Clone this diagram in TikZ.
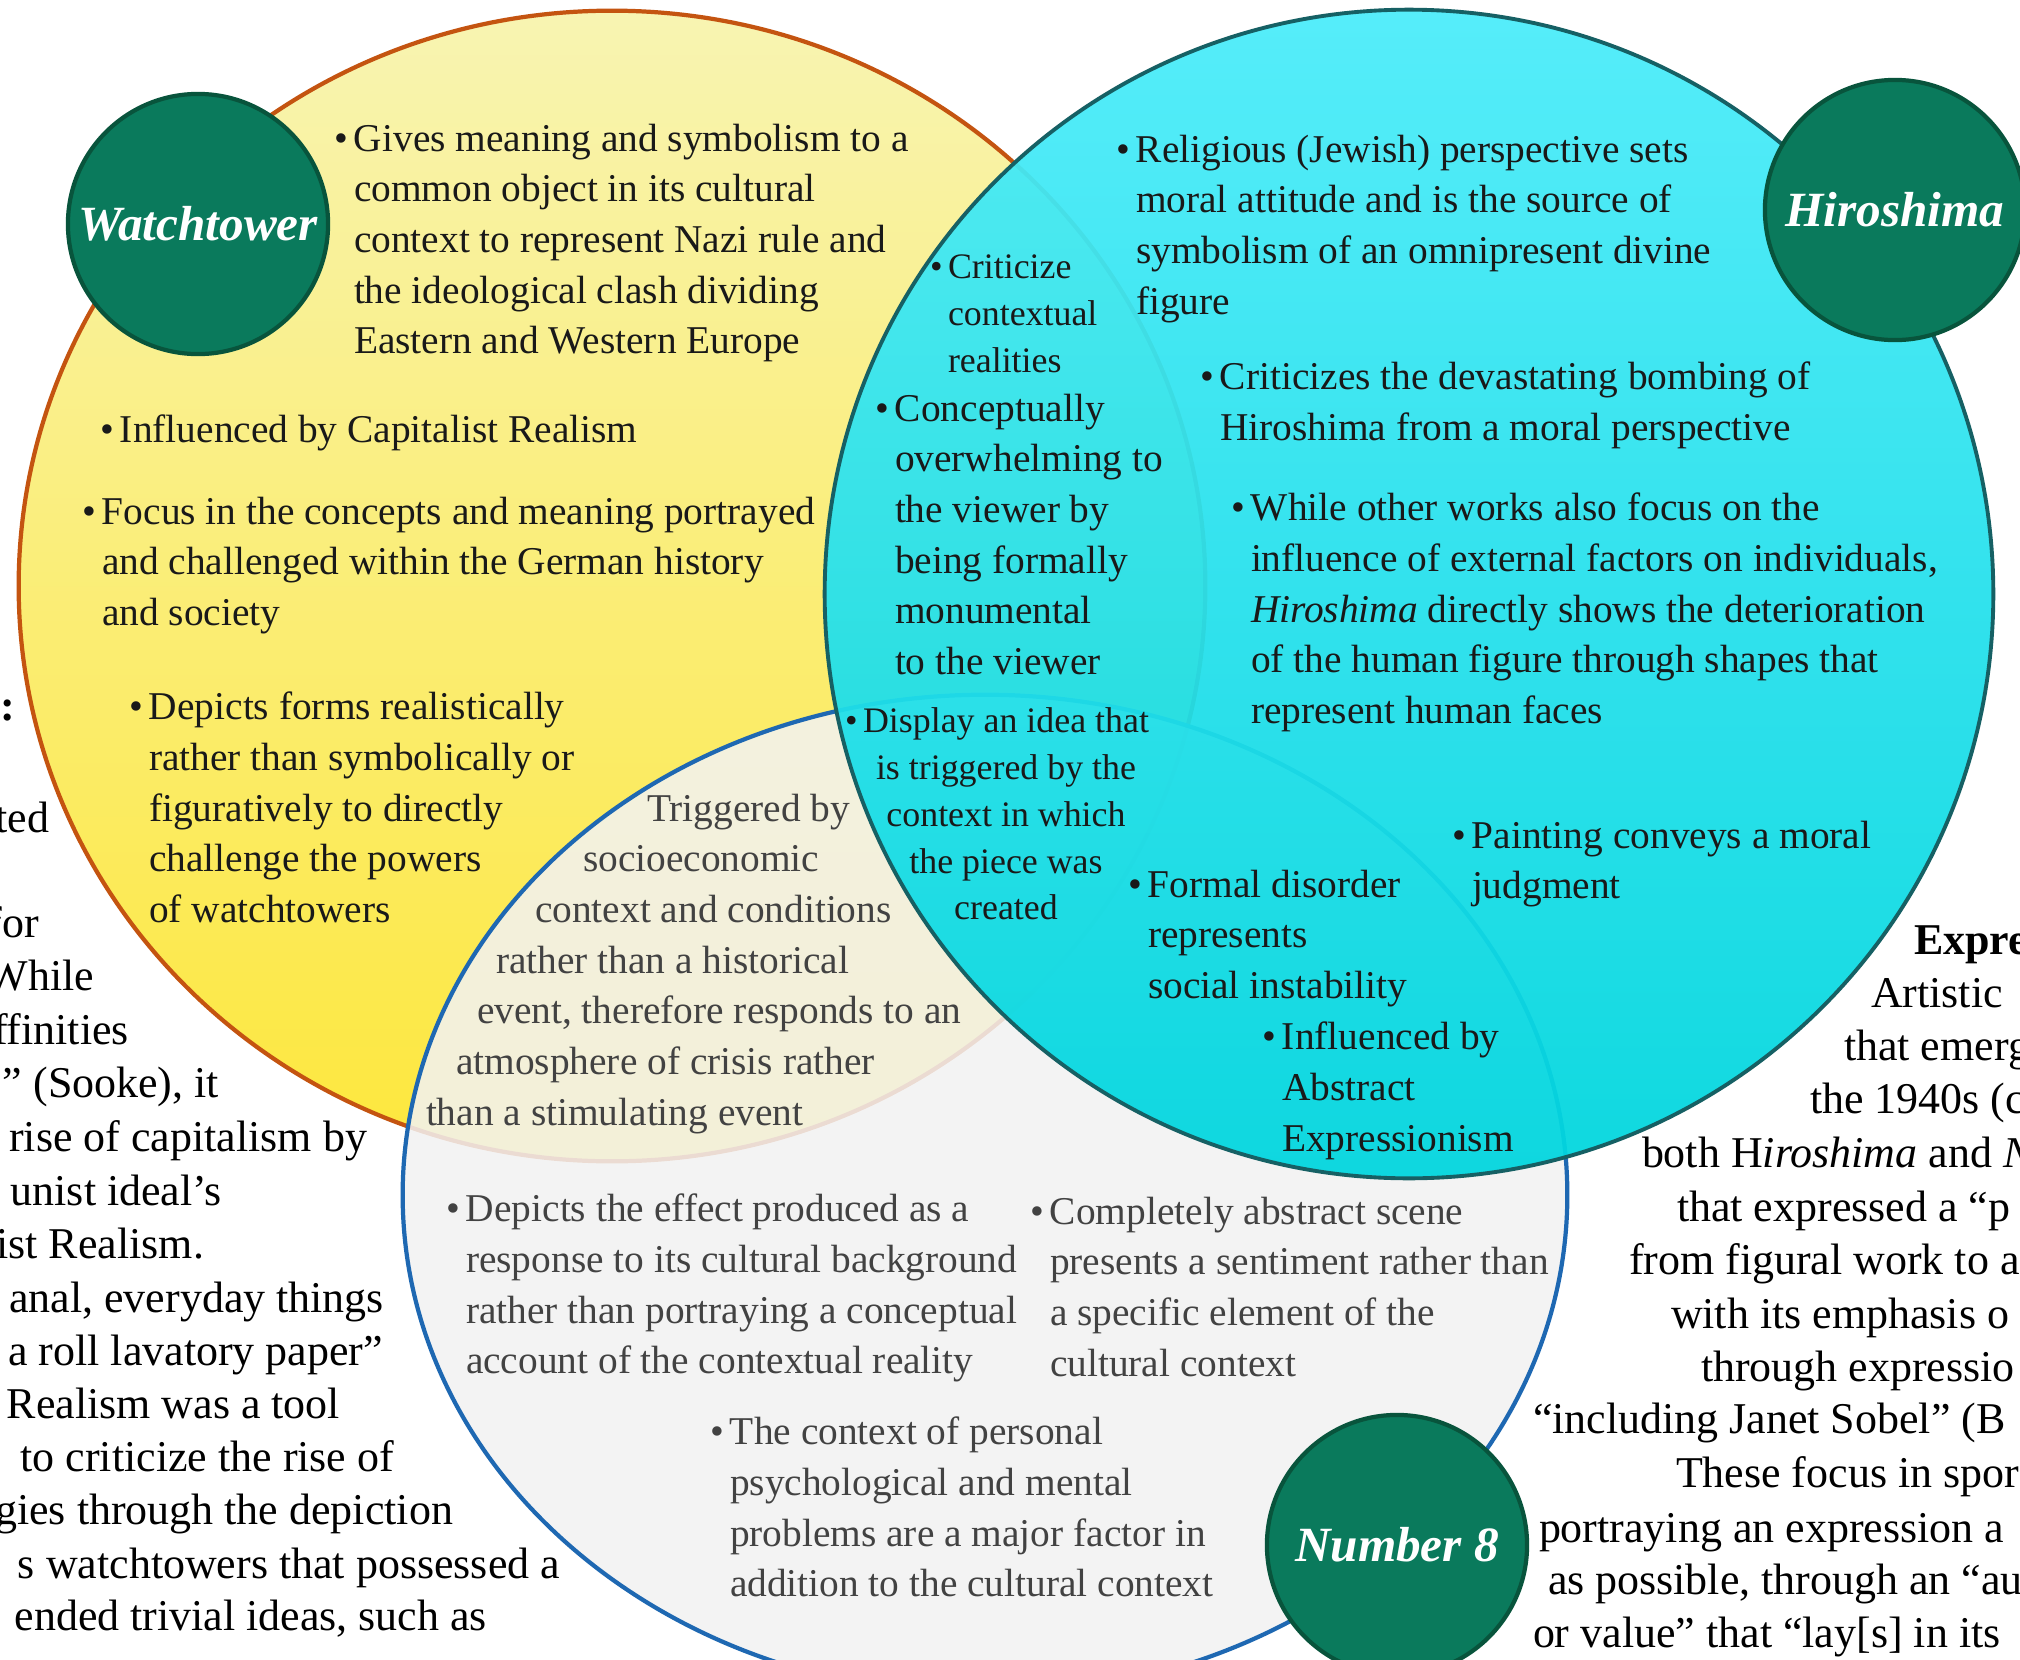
\documentclass[tikz,border=0pt]{standalone}
\usepackage{fontspec}
\setmainfont{Liberation Serif}
\definecolor{ylwtop}{RGB}{248,244,178}
\definecolor{ylwbot}{RGB}{253,231,60}
\definecolor{ylwedge}{RGB}{196,84,16}
\definecolor{cyntop}{RGB}{76,236,250}
\definecolor{cynbot}{RGB}{0,214,222}
\definecolor{cynedge}{RGB}{22,96,100}
\definecolor{wfill}{RGB}{242,242,242}
\definecolor{wedge}{RGB}{30,104,178}
\definecolor{badgegreen}{RGB}{10,122,92}
\definecolor{badgeedge}{RGB}{8,84,60}
\newcommand{\bu}{\llap{\textbullet\hspace{0.15em}}}
\begin{document}
\begin{tikzpicture}[x=0.01cm,y=-0.01cm,
  every node/.style={inner sep=0pt, outer sep=0pt},
  doc/.style={font=\fontsize{12.5}{15}\selectfont, text=black},
  pt/.style={font=\fontsize{11.2}{14.4}\selectfont, align=left, anchor=north west, text=black!90},
  ptsmall/.style={font=\fontsize{10.2}{13.3}\selectfont, align=left, anchor=north west, text=black!90},
  pgray/.style={pt, text=black!74},
  badge/.style={circle, fill=badgegreen, draw=badgeedge, line width=1.2pt,
    minimum size=2.6cm, text=white, font=\fontsize{14}{16}\selectfont\bfseries\itshape}
]
\useasboundingbox (0,0) rectangle (2020,1660);
\fill[white] (0,0) rectangle (2020,1660);
\clip (0,0) rectangle (2020,1660);

% surrounding page text, left column
\node[doc, anchor=base east] (l1) at (15,720) {\textbf{n:}};
\node[doc, anchor=base east] (l2) at (49,832) {ted};
\node[doc, anchor=base east] (l3) at (39,937) {for};
\node[doc, anchor=base east] (l4) at (94,990) {While};
\node[doc, anchor=base east] (l5) at (129,1044) {ffinities};
\node[doc, anchor=base east] (l6) at (219,1097) {” (Sooke), it};
\node[doc, anchor=base east] (l7) at (367,1151) {rise of capitalism by};
\node[doc, anchor=base east] (l8) at (222,1205) {unist ideal’s};
\node[doc, anchor=base east] (l9) at (204,1258) {ist Realism.};
\node[doc, anchor=base east] (l10) at (384,1312) {anal, everyday things};
\node[doc, anchor=base east] (l11) at (383,1365) {a roll lavatory paper”};
\node[doc, anchor=base east] (l12) at (340,1418) {Realism was a tool};
\node[doc, anchor=base east] (l13) at (394,1471) {to criticize the rise of};
\node[doc, anchor=base east] (l14) at (453,1524) {gies through the depiction};
\node[doc, anchor=base east] (l15) at (560,1578) {s watchtowers that possessed a};
\node[doc, anchor=base east] (l16) at (487,1630) {ended trivial ideas, such as};

% surrounding page text, right column
\node[doc, anchor=base west] (r1) at (1914,954) {\textbf{Expre}};
\node[doc, anchor=base west] (r2) at (1871,1007) {Artistic};
\node[doc, anchor=base west] (r3) at (1844,1060) {that emerg};
\node[doc, anchor=base west] (r4) at (1810,1113) {the 1940s (c};
\node[doc, anchor=base west] (r5) at (1642,1167) {both H\textit{iroshima} and \textit{N}};
\node[doc, anchor=base west] (r6) at (1677,1221) {that expressed a “p};
\node[doc, anchor=base west] (r7) at (1629,1274) {from figural work to a};
\node[doc, anchor=base west] (r8) at (1671,1328) {with its emphasis o};
\node[doc, anchor=base west] (r9) at (1701,1381) {through expressio};
\node[doc, anchor=base west] (r10) at (1533,1433) {“including Janet Sobel” (B};
\node[doc, anchor=base west] (r11) at (1676,1487) {These focus in spor};
\node[doc, anchor=base west] (r12) at (1539,1542) {portraying an expression a};
\node[doc, anchor=base west] (r13) at (1548,1594) {as possible, through an “au};
\node[doc, anchor=base west] (r14) at (1533,1647) {or value” that “lay[s] in its};

% the three sets
\shade[top color=ylwtop, bottom color=ylwbot] (612,586) ellipse[x radius=5.93cm, y radius=5.75cm];
\draw[ylwedge, line width=1.2pt] (612,586) ellipse[x radius=5.93cm, y radius=5.75cm];
\fill[wfill, fill opacity=0.86] (985,1195) ellipse[x radius=5.82cm, y radius=5cm];
\draw[wedge, line width=1.2pt] (985,1195) ellipse[x radius=5.82cm, y radius=5cm];
\shade[top color=cyntop, bottom color=cynbot, opacity=0.94] (1409,594) circle[radius=5.84cm];
\draw[cynedge, line width=1.1pt] (1409,594) circle[radius=5.84cm];

% set labels
\node[badge] (watch) at (198,224) {Watchtower};
\node[badge] (hiro) at (1895,210) {Hiroshima};
\node[badge] (numb) at (1397,1545) {Number 8};

% Watchtower only
\node[pt] (w1) at (354,124) {\bu Gives meaning and symbolism to a\\common object in its cultural\\context to represent Nazi rule and\\the ideological clash dividing\\Eastern and Western Europe};
\node[pt] (w2) at (120,415) {\bu Influenced by Capitalist Realism};
\node[pt] (w3) at (102,497) {\bu Focus in the concepts and meaning portrayed\\and challenged within the German history\\and society};
\node[pt] (w4) at (149,692) {\bu Depicts forms realistically\\rather than symbolically or\\figuratively to directly\\challenge the powers\\of watchtowers};

% Watchtower and Hiroshima
\node[ptsmall] (wh1) at (948,255) {\bu Criticize\\contextual\\realities};
\node[pt] (wh2) at (895,394) {\bu Conceptually\\overwhelming to\\the viewer by\\being formally\\monumental\\to the viewer};

% Hiroshima only
\node[pt] (h1) at (1136,135) {\bu Religious (Jewish) perspective sets\\moral attitude and is the source of\\symbolism of an omnipresent divine\\figure};
\node[pt] (h2) at (1220,362) {\bu Criticizes the devastating bombing of\\Hiroshima from a moral perspective};
\node[pt] (h3) at (1251,493) {\bu While other works also focus on the\\influence of external factors on individuals,\\\textit{Hiroshima} directly shows the deterioration\\of the human figure through shapes that\\represent human faces};
\node[pt] (h4) at (1472,821) {\bu Painting conveys a moral\\judgment};

% all three
\node[ptsmall, anchor=north, align=center] (all) at (1006,708) {\bu Display an idea that\\is triggered by the\\context in which\\the piece was\\created};

% Hiroshima and Number 8
\node[pt] (hn1) at (1148,870) {\bu Formal disorder\\represents\\social instability};
\node[pt] (hn2) at (1282,1022) {\bu Influenced by\\Abstract\\Expressionism};

% Watchtower and Number 8
\node[pgray] (wn) at (426,794) {\hspace*{2.21cm}Triggered by\\\hspace*{1.57cm}socioeconomic\\\hspace*{1.09cm}context and conditions\\\hspace*{0.70cm}rather than a historical\\\hspace*{0.51cm}event, therefore responds to an\\\hspace*{0.30cm}atmosphere of crisis rather\\than a stimulating event};

% Number 8 only
\node[pgray] (n1) at (466,1194) {\bu Depicts the effect produced as a\\response to its cultural background\\rather than portraying a conceptual\\account of the contextual reality};
\node[pgray] (n2) at (1050,1197) {\bu Completely abstract scene\\presents a sentiment rather than\\a specific element of the\\cultural context};
\node[pgray] (n3) at (730,1417) {\bu The context of personal\\psychological and mental\\problems are a major factor in\\addition to the cultural context};
\end{tikzpicture}
\end{document}
